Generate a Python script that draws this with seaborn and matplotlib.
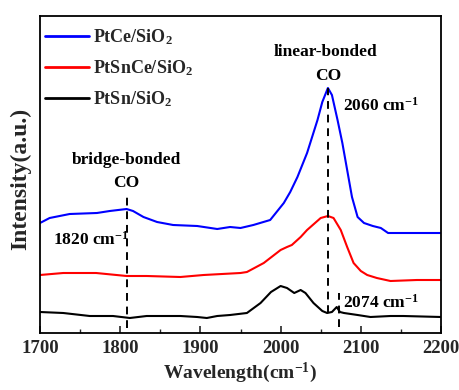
import numpy as np
import pandas as pd
import matplotlib
matplotlib.use("Agg")
import matplotlib.pyplot as plt
import seaborn as sns

# --- data (intensity in arbitrary units) ---
series_names = ["PtCe/SiO$_2$", "PtSnCe/SiO$_2$", "PtSn/SiO$_2$"]
series_colors = ["#0000ff", "#ff0000", "#000000"]

ptce_x = [1700, 1712, 1737, 1771, 1787, 1808, 1816, 1829, 1846, 1866, 1896, 1921,
          1937, 1950, 1966, 1987, 2004, 2012, 2021, 2033, 2046, 2052, 2059, 2064,
          2071, 2077, 2083, 2089, 2096, 2104, 2115, 2125, 2134, 2160, 2180, 2200]
ptce_y = [110, 115, 119, 120, 122, 124, 122, 116, 111, 108, 107, 104,
          106, 105, 108, 113, 130, 141, 156, 180, 213, 231, 245, 238,
          213, 190, 163, 136, 116, 110, 107, 105, 100, 100, 100, 100]

ptsnce_x = [1700, 1729, 1770, 1808, 1833, 1875, 1904, 1950, 1958, 1979, 2000, 2008,
            2014, 2025, 2033, 2050, 2059, 2066, 2075, 2083, 2091, 2100, 2108, 2120,
            2137, 2170, 2200]
ptsnce_y = [58, 60, 60, 57, 57, 56, 58, 60, 61, 70, 83, 86,
            88, 96, 103, 115, 117, 115, 103, 86, 70, 62, 58, 55,
            52, 53, 53]

ptsn_x = [1700, 1729, 1762, 1791, 1812, 1833, 1875, 1896, 1908, 1921, 1937, 1958,
          1975, 1988, 2000, 2008, 2017, 2025, 2031, 2041, 2052, 2058, 2064, 2070,
          2074, 2079, 2096, 2112, 2137, 2153, 2200]
ptsn_y = [21, 20, 17, 17, 15, 17, 17, 16, 15, 17, 18, 20,
          30, 41, 47, 45, 40, 43, 40, 30, 22, 20, 21, 26,
          21, 20, 18, 16, 17, 17, 16]

# dashed marker lines: position, bottom, top
marker_x = [1808, 2059, 2073]
marker_bottom = [5, 20, 6]
marker_top = [140, 245, 40]

# --- build long-form table ---
frames = []
for name, xs, ys in zip(series_names, [ptce_x, ptsnce_x, ptsn_x],
                        [ptce_y, ptsnce_y, ptsn_y]):
    frames.append(pd.DataFrame({"Wavenumber": xs, "Intensity": ys, "Sample": name}))
df = pd.concat(frames, ignore_index=True)

sns.set_theme(style="ticks")
plt.rcParams["font.family"] = ["Liberation Serif", "DejaVu Serif"]
plt.rcParams["font.weight"] = "bold"
plt.rcParams["mathtext.fontset"] = "custom"
plt.rcParams["mathtext.rm"] = "Liberation Serif:bold"
plt.rcParams["mathtext.it"] = "Liberation Serif:bold"
plt.rcParams["mathtext.bf"] = "Liberation Serif:bold"
plt.rcParams["mathtext.default"] = "rm"

fig = plt.figure(figsize=(4.6, 3.9), dpi=100)
ax = fig.add_axes([40 / 460, 1 - 333 / 390, 401 / 460, 317 / 390])

sns.lineplot(data=df, x="Wavenumber", y="Intensity", hue="Sample",
             palette=dict(zip(series_names, series_colors)), linewidth=1.5,
             ax=ax, sort=True, estimator=None)

for mx, mb, mt in zip(marker_x, marker_bottom, marker_top):
    ax.plot([mx, mx], [mb, mt], color="black", linewidth=1.4,
            linestyle=(0, (4, 3)))

ax.set_xlim(1700, 2200)
ax.set_ylim(0, 317)
ax.set_xticks([1700, 1800, 1900, 2000, 2100, 2200])
ax.set_xticks(np.arange(1750, 2200, 100), minor=True)
ax.set_yticks([])
ax.tick_params(axis="x", which="major", direction="in", length=5, width=1.2,
               labelsize=13.5, pad=5)
ax.tick_params(axis="x", which="minor", direction="in", length=3, width=1.0)
for lab in ax.get_xticklabels():
    lab.set_fontweight("bold")
for s in ax.spines.values():
    s.set_linewidth(1.3)
    s.set_color("black")

ax.set_xlabel("Wavelength(cm$^{-1}$)", fontsize=14, fontweight="bold", labelpad=3)
ax.set_ylabel("Intensity(a.u.)", fontsize=17, fontweight="bold")
ax.yaxis.set_label_coords(-0.022, (333 - 179) / 317)

kw = dict(fontsize=12.5, fontweight="bold", color="black")
ax.text(1808, 173, "bridge-bonded", ha="center", va="center", **kw)
ax.text(1808, 150, "CO", ha="center", va="center", **kw)
ax.text(1716, 93, "1820 cm$^{-1}$", ha="left", va="center", **kw)
ax.text(2056, 281, "linear-bonded", ha="center", va="center", **kw)
ax.text(2060, 257, "CO", ha="center", va="center", **kw)
ax.text(2078, 227, "2060 cm$^{-1}$", ha="left", va="center", **kw)
ax.text(2078, 30, "2074 cm$^{-1}$", ha="left", va="center", **kw)

leg = ax.legend(loc="upper left", bbox_to_anchor=(0.004, 0.975), frameon=False,
                fontsize=13, handlelength=2.4, handletextpad=0.25,
                labelspacing=0.62, borderaxespad=0.0, borderpad=0.2)
for t in leg.get_texts():
    t.set_fontweight("bold")
for l in leg.get_lines():
    l.set_linewidth(2)

fig.savefig("out.png", dpi=100)
